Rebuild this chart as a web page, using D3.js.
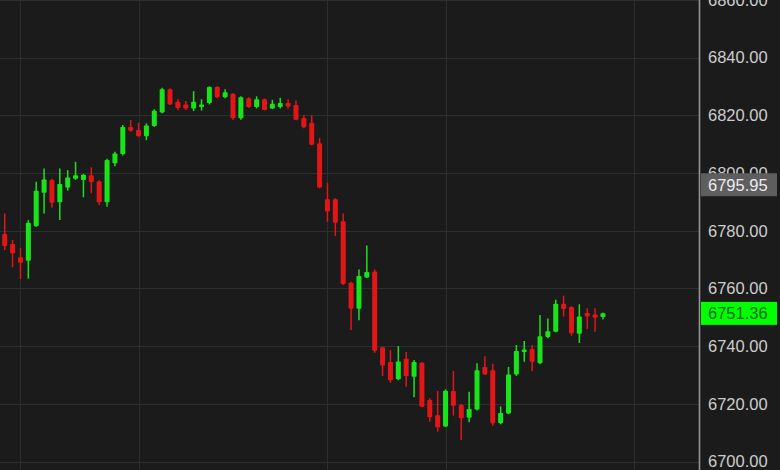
<!DOCTYPE html>
<html>
<head>
<meta charset="utf-8">
<script src="https://cdn.jsdelivr.net/npm/d3@7"></script>
<style>
	body { margin: 0; background: #1b1b1b; }
	svg { display: block; }
</style>
</head>
<body>
<svg width="780" height="470"></svg>
<script>
// candle values, one entry per bar
let opens = [
	6778.9, 6775.4, 6770.8, 6769.6, 6781.6, 6793.2, 6797.6, 6789.9, 6795.0, 6798.0,
	6797.6, 6799.2, 6797.1, 6789.9, 6803.4, 6806.6, 6816.0, 6814.9, 6812.8, 6816.3,
	6821.0, 6829.1, 6824.7, 6823.8, 6822.4, 6822.9, 6824.3, 6829.8, 6826.3, 6827.5,
	6819.0, 6825.9, 6822.9, 6825.6, 6822.4, 6822.9, 6824.3, 6823.6, 6819.1, 6817.4,
	6810.3, 6790.9, 6790.9, 6783.3, 6762.0, 6753.0, 6763.8, 6765.9, 6739.6, 6734.5,
	6728.5, 6735.6, 6729.4, 6734.2, 6721.3, 6716.0, 6712.1, 6724.4, 6719.6, 6715.2,
	6718.0, 6732.8, 6731.6, 6713.3, 6716.6, 6730.2, 6738.1, 6739.0, 6734.1, 6743.2,
	6745.0, 6754.7, 6753.6, 6744.3, 6751.5, 6751.0, 6750.1
]
let highs = [
	6786.0, 6776.8, 6774.0, 6783.7, 6797.0, 6801.6, 6798.0, 6801.6, 6801.0, 6803.9,
	6799.7, 6802.0, 6797.6, 6805.0, 6807.4, 6816.7, 6818.4, 6817.4, 6817.2, 6822.1,
	6829.6, 6829.4, 6825.6, 6825.0, 6828.4, 6825.6, 6830.1, 6830.1, 6829.1, 6827.7,
	6826.6, 6826.3, 6826.6, 6825.9, 6825.4, 6826.1, 6825.6, 6825.2, 6820.1, 6820.0,
	6812.1, 6796.6, 6791.3, 6786.0, 6762.3, 6766.6, 6774.9, 6766.6, 6739.8, 6738.6,
	6740.0, 6738.0, 6735.2, 6734.5, 6721.9, 6724.5, 6725.0, 6731.4, 6720.0, 6724.2,
	6734.1, 6736.5, 6733.9, 6719.1, 6732.8, 6740.4, 6741.8, 6740.4, 6750.8, 6749.6,
	6756.1, 6757.5, 6753.8, 6754.5, 6753.1, 6753.1, 6751.7
]
let lows = [
	6773.3, 6767.4, 6763.3, 6763.4, 6781.4, 6786.0, 6788.1, 6783.7, 6793.9, 6797.6,
	6791.6, 6793.0, 6788.9, 6788.3, 6802.4, 6806.1, 6814.3, 6812.6, 6811.4, 6816.0,
	6820.7, 6823.6, 6821.9, 6821.9, 6821.5, 6821.7, 6823.8, 6825.9, 6825.9, 6818.5,
	6818.5, 6822.6, 6822.4, 6821.7, 6822.2, 6822.4, 6822.4, 6818.3, 6815.5, 6809.6,
	6794.7, 6783.1, 6778.2, 6761.2, 6745.6, 6749.0, 6763.6, 6737.7, 6729.6, 6727.3,
	6728.2, 6725.9, 6722.3, 6718.8, 6713.8, 6710.3, 6711.9, 6715.9, 6707.5, 6713.6,
	6717.7, 6730.0, 6712.4, 6712.9, 6716.4, 6729.7, 6734.6, 6731.4, 6733.7, 6742.7,
	6744.8, 6750.3, 6743.6, 6741.1, 6745.9, 6745.0, 6749.2
]
let closes = [
	6774.7, 6772.2, 6768.9, 6782.8, 6793.9, 6797.8, 6789.7, 6796.2, 6798.5, 6799.2,
	6799.4, 6796.9, 6789.9, 6804.5, 6806.8, 6816.0, 6814.7, 6812.8, 6816.5, 6821.6,
	6829.1, 6823.8, 6822.6, 6822.4, 6824.7, 6823.8, 6829.8, 6826.3, 6828.0, 6819.0,
	6826.3, 6822.9, 6825.6, 6821.9, 6824.0, 6824.3, 6823.1, 6818.5, 6815.9, 6809.8,
	6795.0, 6786.7, 6782.8, 6761.5, 6753.0, 6764.3, 6765.7, 6738.4, 6733.3, 6728.2,
	6734.7, 6729.6, 6734.5, 6719.0, 6715.3, 6711.9, 6724.5, 6719.3, 6715.0, 6718.2,
	6731.6, 6730.2, 6713.3, 6716.8, 6730.2, 6738.3, 6738.8, 6734.6, 6743.4, 6745.2,
	6754.7, 6752.9, 6744.5, 6750.3, 6750.3, 6749.8, 6751.36
]

let yTicks = [6700, 6720, 6740, 6760, 6780, 6800, 6820, 6840, 6860]
// bar numbers where the time gridlines fall
let gridBars = [2, 17, 41, 56, 80]
let refPrice = 6795.95
let lastPrice = 6751.36

let config = {
	width: 780,
	height: 470,
	axisX: 699,
	bodyWidth: 5,
	up: '#19e419',
	down: '#e21616',
	grid: '#2e2e2e',
	font: 'Liberation Sans, Arial, sans-serif',
	fontSize: 16.5,
	xScale: undefined,
	yScale: undefined,
}

function createScales() {
	config.xScale = d3.scaleLinear()
		.domain([-0.6, 88.2])
		.range([0, config.axisX])

	config.yScale = d3.scaleLinear()
		.domain([6700, 6860])
		.range([461.5, 0])
}

function drawGrid(svg) {
	let g = svg.append('g').attr('id', 'grid')

	g.selectAll('line.h')
		.data(yTicks)
		.enter()
		.append('line')
		.attr('class', 'h')
		.attr('x1', 0)
		.attr('x2', config.axisX)
		.attr('y1', d => Math.round(config.yScale(d)) + 0.5)
		.attr('y2', d => Math.round(config.yScale(d)) + 0.5)
		.attr('stroke', config.grid)

	g.selectAll('line.v')
		.data(gridBars)
		.enter()
		.append('line')
		.attr('class', 'v')
		.attr('x1', d => Math.round(config.xScale(d)) + 0.5)
		.attr('x2', d => Math.round(config.xScale(d)) + 0.5)
		.attr('y1', 0)
		.attr('y2', config.height)
		.attr('stroke', config.grid)
}

function drawCandles(svg) {
	let data = opens.map((o, i) => ({
		i: i, o: o, h: highs[i], l: lows[i], c: closes[i]
	}))
	let x = config.xScale
	let y = config.yScale

	let g = svg.append('g').attr('id', 'candles')
	let candles = g.selectAll('g')
		.data(data)
		.enter()
		.append('g')
		.attr('fill', d => d.c >= d.o ? config.up : config.down)
		.attr('stroke', d => d.c >= d.o ? config.up : config.down)

	candles.append('line')
		.attr('x1', d => x(d.i))
		.attr('x2', d => x(d.i))
		.attr('y1', d => y(d.h))
		.attr('y2', d => y(d.l))
		.attr('stroke-width', 1.5)

	candles.append('rect')
		.attr('x', d => x(d.i) - config.bodyWidth / 2)
		.attr('width', config.bodyWidth)
		.attr('y', d => y(Math.max(d.o, d.c)))
		.attr('height', d => Math.max(2.5, Math.abs(y(d.o) - y(d.c))))
		.attr('stroke', 'none')
		.attr('rx', 0.8)
}

function drawAxis(svg) {
	let axisG = svg.append('g')
		.attr('id', 'right-axis')
		.attr('transform', `translate(${config.axisX}, 0)`)

	let rightAxis = d3.axisRight(config.yScale)
		.tickValues(yTicks)
		.tickFormat(d3.format('.2f'))
		.tickSize(0)
		.tickPadding(9)
	axisG.call(rightAxis)

	axisG.select('.domain').remove()
	axisG.selectAll('text')
		.attr('fill', '#cdcdcd')
		.attr('font-family', config.font)
		.attr('font-size', config.fontSize)

	svg.append('line')
		.attr('x1', config.axisX + 0.5)
		.attr('x2', config.axisX + 0.5)
		.attr('y1', 0)
		.attr('y2', config.height)
		.attr('stroke', '#959595')
		.attr('stroke-width', 1.6)
}

function drawTag(svg, value, fill, color) {
	let cy = config.yScale(value)
	let tag = svg.append('g')
	tag.append('rect')
		.attr('x', config.axisX + 2)
		.attr('y', cy - 11.5)
		.attr('width', 76)
		.attr('height', 23)
		.attr('fill', fill)
	tag.append('text')
		.attr('x', config.axisX + 9)
		.attr('y', cy)
		.attr('dy', '0.36em')
		.attr('fill', color)
		.attr('font-family', config.font)
		.attr('font-size', config.fontSize)
		.text(d3.format('.2f')(value))
}

function app() {
	let svg = d3.select('svg')
	svg.append('rect')
		.attr('width', config.width)
		.attr('height', config.height)
		.attr('fill', '#1b1b1b')

	createScales()
	drawGrid(svg)
	drawCandles(svg)
	drawAxis(svg)
	drawTag(svg, refPrice, '#5e5e5e', '#ececec')
	drawTag(svg, lastPrice, '#00ff00', '#0c6a0c')
}

app()
</script>
</body>
</html>
